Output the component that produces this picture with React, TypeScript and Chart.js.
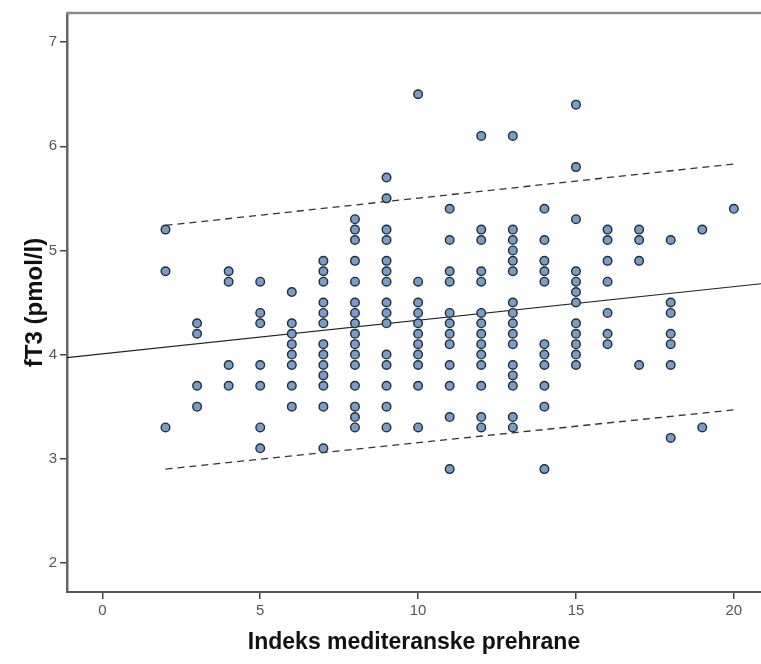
import React, { useEffect, useRef } from "react";
import { Chart, registerables } from "chart.js";

Chart.register(...registerables);

const indexValues = [2, 3, 4, 5, 6, 7, 8, 9, 10, 11, 12, 13, 14, 15, 16, 17, 18, 19, 20];
const ft3Values: number[][] = [
  [5.2, 4.8, 3.3],
  [4.3, 4.2, 3.7, 3.5],
  [4.8, 4.7, 3.9, 3.7],
  [4.7, 4.4, 4.3, 3.9, 3.7, 3.3, 3.1],
  [4.6, 4.3, 4.2, 4.1, 4.0, 3.9, 3.7, 3.5],
  [4.9, 4.8, 4.7, 4.5, 4.4, 4.3, 4.1, 4.0, 3.9, 3.8, 3.7, 3.5, 3.1],
  [5.3, 5.2, 5.1, 4.9, 4.7, 4.5, 4.4, 4.3, 4.2, 4.1, 4.0, 3.9, 3.7, 3.5, 3.4, 3.3],
  [5.7, 5.5, 5.2, 5.1, 4.9, 4.8, 4.7, 4.5, 4.4, 4.3, 4.0, 3.9, 3.7, 3.5, 3.3],
  [6.5, 4.7, 4.5, 4.4, 4.3, 4.2, 4.1, 4.0, 3.9, 3.7, 3.3],
  [5.4, 5.1, 4.8, 4.7, 4.4, 4.3, 4.2, 4.1, 3.9, 3.7, 3.4, 2.9],
  [6.1, 5.2, 5.1, 4.8, 4.7, 4.4, 4.3, 4.2, 4.1, 4.0, 3.9, 3.7, 3.4, 3.3],
  [6.1, 5.2, 5.1, 5.0, 4.9, 4.8, 4.5, 4.4, 4.3, 4.2, 4.1, 3.9, 3.8, 3.7, 3.4, 3.3],
  [5.4, 5.1, 4.9, 4.8, 4.7, 4.1, 4.0, 3.9, 3.7, 3.5, 2.9],
  [6.4, 5.8, 5.3, 4.8, 4.7, 4.6, 4.5, 4.3, 4.2, 4.1, 4.0, 3.9],
  [5.2, 5.1, 4.9, 4.7, 4.4, 4.2, 4.1],
  [5.2, 5.1, 4.9, 3.9],
  [5.1, 4.5, 4.4, 4.2, 4.1, 3.9, 3.2],
  [5.2, 3.3],
  [5.4],
];

const fitX = [-1.12, 20.86];
const fitY = [3.97, 4.68];
const bandX = [2, 20];
const upperY = [5.24, 5.83];
const lowerY = [2.9, 3.47];

const xTicks = [0, 5, 10, 15, 20];
const yTicks = [2, 3, 4, 5, 6, 7];

const xMin = -1.12;
const xMax = 20.86;
const yMin = 1.72;
const yMax = 7.28;

const xTitle = "Indeks mediteranske prehrane";
const yTitle = "fT3 (pmol/l)";

export default function App() {
  const ref = useRef<HTMLCanvasElement | null>(null);

  useEffect(() => {
    document.body.style.margin = "0";
    const canvas = ref.current;
    if (!canvas) return;

    const points: { x: number; y: number }[] = [];
    indexValues.forEach((xv, i) => {
      ft3Values[i].forEach((yv) => points.push({ x: xv, y: yv }));
    });

    const topBorder = {
      id: "topBorder",
      afterDraw(chart: any) {
        const { ctx, chartArea } = chart;
        ctx.save();
        ctx.strokeStyle = "#8a8a8a";
        ctx.lineWidth = 2.5;
        ctx.beginPath();
        ctx.moveTo(chartArea.left - 1, chartArea.top);
        ctx.lineTo(chartArea.right, chartArea.top);
        ctx.stroke();
        ctx.restore();
      },
    };

    const tickFont = { family: "'Liberation Sans Narrow', 'Liberation Sans', Arial, sans-serif", size: 15 };
    const titleFont = { family: "'Liberation Sans Narrow', 'Liberation Sans', Arial, sans-serif", size: 23, weight: "bold" as const };
    const yTitleFont = { family: "'Liberation Sans Narrow', 'Liberation Sans', Arial, sans-serif", size: 24, weight: "bold" as const };

    const chart = new Chart(canvas, {
      type: "scatter",
      data: {
        datasets: [
          {
            type: "line",
            data: fitX.map((x, i) => ({ x, y: fitY[i] })),
            borderColor: "#222",
            borderWidth: 1.2,
            pointRadius: 0,
            showLine: true,
            order: 2,
          } as any,
          {
            type: "line",
            data: bandX.map((x, i) => ({ x, y: upperY[i] })),
            borderColor: "#333",
            borderWidth: 1.3,
            borderDash: [7, 5],
            pointRadius: 0,
            showLine: true,
            order: 2,
          } as any,
          {
            type: "line",
            data: bandX.map((x, i) => ({ x, y: lowerY[i] })),
            borderColor: "#333",
            borderWidth: 1.3,
            borderDash: [7, 5],
            pointRadius: 0,
            showLine: true,
            order: 2,
          } as any,
          {
            type: "scatter",
            data: points,
            backgroundColor: "#7d9cc4",
            borderColor: "#1e2d3c",
            borderWidth: 1.4,
            pointRadius: 4.3,
            order: 1,
          },
        ],
      },
      options: {
        responsive: false,
        animation: false,
        maintainAspectRatio: false,
        layout: { autoPadding: false, padding: { top: 13, right: 0, left: 0, bottom: 0 } },
        plugins: {
          legend: { display: false },
          tooltip: { enabled: false },
        },
        scales: {
          x: {
            type: "linear",
            min: xMin,
            max: xMax,
            afterBuildTicks: (scale: any) => {
              scale.ticks = xTicks.map((v) => ({ value: v }));
            },
            afterFit: (scale: any) => {
              scale.height = 72;
              scale.paddingRight = 0;
              scale.paddingLeft = 0;
            },
            grid: {
              drawOnChartArea: false,
              drawTicks: true,
              tickLength: 7,
              color: "#444",
              lineWidth: 1.5,
            },
            border: { display: true, color: "#555", width: 2 },
            ticks: {
              color: "#555",
              font: tickFont,
              padding: 3,
              maxRotation: 0,
            },
            title: {
              display: true,
              text: xTitle,
              color: "#111",
              font: titleFont,
              padding: { top: 0, bottom: 8 },
            },
          },
          y: {
            type: "linear",
            min: yMin,
            max: yMax,
            afterBuildTicks: (scale: any) => {
              scale.ticks = yTicks.map((v) => ({ value: v }));
            },
            afterFit: (scale: any) => {
              scale.width = 67;
              scale.paddingTop = 0;
              scale.paddingBottom = 0;
            },
            grid: {
              drawOnChartArea: false,
              drawTicks: true,
              tickLength: 7,
              color: "#444",
              lineWidth: 1.5,
            },
            border: { display: true, color: "#666", width: 2.5 },
            ticks: {
              color: "#555",
              font: tickFont,
              padding: 3,
            },
            title: {
              display: true,
              text: yTitle,
              color: "#111",
              font: yTitleFont,
              padding: { top: 21, bottom: 0 },
            },
          },
        },
      },
      plugins: [topBorder],
    });

    return () => chart.destroy();
  }, []);

  return (
    <div style={{ width: 761, height: 664, background: "#fff" }}>
      <canvas ref={ref} width={761} height={664} style={{ display: "block" }} />
    </div>
  );
}
